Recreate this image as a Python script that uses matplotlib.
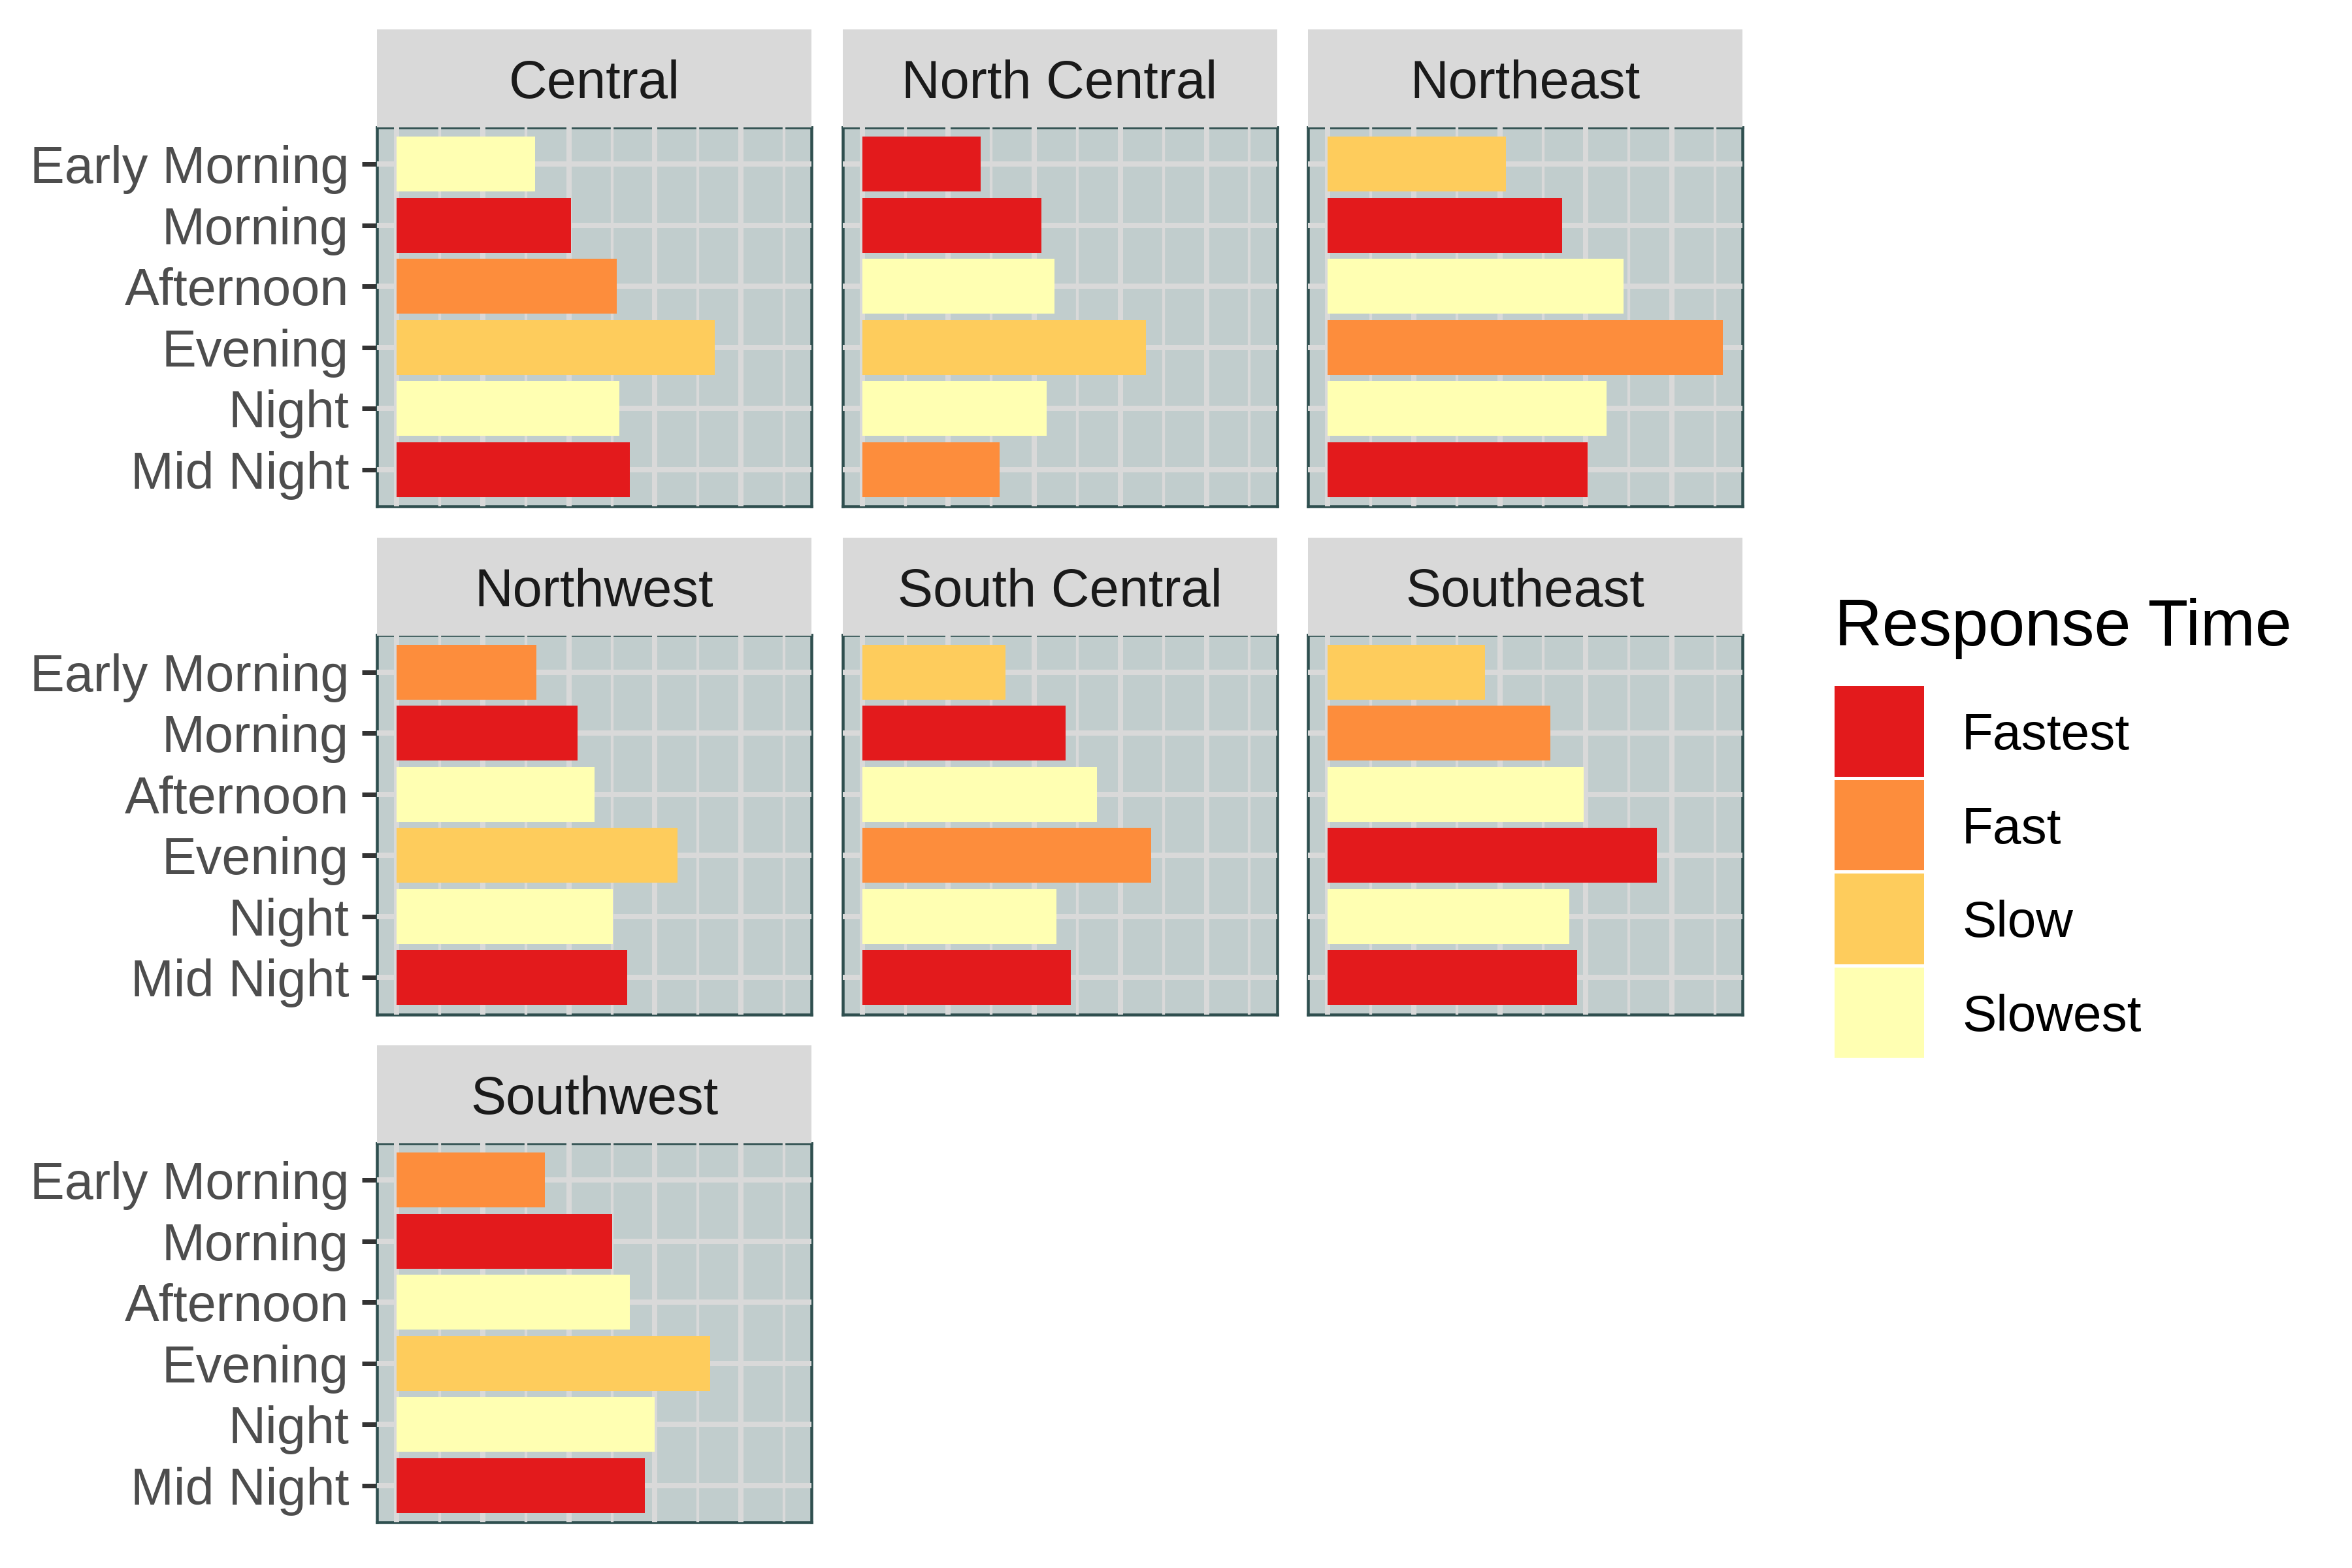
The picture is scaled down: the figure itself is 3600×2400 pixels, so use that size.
import matplotlib
matplotlib.use("Agg")
import matplotlib.pyplot as plt
from matplotlib.patches import Rectangle

plt.rcParams['font.family'] = ['Liberation Sans', 'DejaVu Sans']

regions = ['Central', 'North Central', 'Northeast', 'Northwest',
           'South Central', 'Southeast', 'Southwest']
periods = ['Early Morning', 'Morning', 'Afternoon', 'Evening', 'Night', 'Mid Night']
levels = ['Fastest', 'Fast', 'Slow', 'Slowest']
level_colors = ['#E31A1C', '#FD8D3C', '#FECC5C', '#FFFFB2']

central = [3.21, 4.05, 5.12, 7.39, 5.18, 5.41]
north_central = [2.76, 4.17, 4.47, 6.59, 4.28, 3.20]
northeast = [4.14, 5.45, 6.88, 9.18, 6.48, 6.04]
northwest = [3.25, 4.20, 4.60, 6.52, 5.03, 5.36]
south_central = [3.33, 4.73, 5.45, 6.72, 4.52, 4.85]
southeast = [3.65, 5.17, 5.95, 7.65, 5.62, 5.79]
southwest = [3.45, 5.01, 5.42, 7.29, 6.00, 5.77]

central_cat = ['Slowest', 'Fastest', 'Fast', 'Slow', 'Slowest', 'Fastest']
north_central_cat = ['Fastest', 'Fastest', 'Slowest', 'Slow', 'Slowest', 'Fast']
northeast_cat = ['Slow', 'Fastest', 'Slowest', 'Fast', 'Slowest', 'Fastest']
northwest_cat = ['Fast', 'Fastest', 'Slowest', 'Slow', 'Slowest', 'Fastest']
south_central_cat = ['Slow', 'Fastest', 'Slowest', 'Fast', 'Slowest', 'Fastest']
southeast_cat = ['Slow', 'Fast', 'Slowest', 'Fastest', 'Slowest', 'Fastest']
southwest_cat = ['Fast', 'Fastest', 'Slowest', 'Slow', 'Slowest', 'Fastest']

values = [central, north_central, northeast, northwest, south_central, southeast, southwest]
cats = [central_cat, north_central_cat, northeast_cat, northwest_cat,
        south_central_cat, southeast_cat, southwest_cat]
color_of = dict(zip(levels, level_colors))

W, H = 3600, 2400
DPI = 300
fig = plt.figure(figsize=(W / DPI, H / DPI), dpi=DPI)

def px(v):
    return v * 72.0 / DPI  # pixels -> points

PANEL_BG = '#C1CDCD'
BORDER = '#2F4F4F'
GRID = '#D9D9D9'
STRIP_BG = '#D9D9D9'

col_left = [577, 1289.5, 2002]
row_top = [195, 972.5, 1750]
pw, ph = 665, 580
strip_h = 150

vmax = max(max(v) for v in values)
xlo, xhi = -0.05 * vmax, vmax * 1.05
n = len(periods)
ypos = [n - i for i in range(n)]

for k, reg in enumerate(regions):
    r, c = divmod(k, 3)
    l = col_left[c]
    t = row_top[r]
    ax = fig.add_axes([l / W, 1 - (t + ph) / H, pw / W, ph / H])
    ax.set_facecolor(PANEL_BG)
    ax.set_xlim(xlo, xhi)
    ax.set_ylim(0.4, n + 0.6)
    for xv in range(0, int(xhi) + 1):
        lw = px(8) if xv % 2 == 0 else px(4.3)
        ax.axvline(xv, color=GRID, lw=lw, zorder=2.6, solid_capstyle='butt')
    for yv in ypos:
        ax.axhline(yv, color=GRID, lw=px(8), zorder=2.6, solid_capstyle='butt')
    ax.barh(ypos, values[k], height=0.9, left=0,
            color=[color_of[cc] for cc in cats[k]], zorder=3, linewidth=0)
    for s in ax.spines.values():
        s.set_color(BORDER)
        s.set_linewidth(px(4.5))
    ax.set_xticks([])
    if c == 0:
        ax.set_yticks(ypos)
        ax.set_yticklabels(periods, fontsize=19, color='#4D4D4D')
        ax.tick_params(axis='y', length=px(23), width=px(7), color='#333333', pad=px(20))
    else:
        ax.set_yticks([])
    # strip
    sax = fig.add_axes([l / W, 1 - t / H, pw / W, strip_h / H])
    sax.set_facecolor(STRIP_BG)
    for s in sax.spines.values():
        s.set_visible(False)
    sax.set_xticks([]); sax.set_yticks([])
    sax.text(0.5, 0.30, reg, ha='center', va='baseline', fontsize=19.5,
             color='#1A1A1A', transform=sax.transAxes)

# legend
lax = fig.add_axes([0, 0, 1, 1], facecolor='none')
lax.set_xlim(0, W); lax.set_ylim(H, 0)
lax.axis('off')
lax.text(2808, 988, 'Response Time', fontsize=24.2, color='black', ha='left', va='baseline')
key_top0 = 1047
key_step = 143.5
for i, (lev, colr) in enumerate(zip(levels, level_colors)):
    y0 = key_top0 + i * key_step
    lax.add_patch(Rectangle((2805, y0), 142, key_step, facecolor=colr,
                            edgecolor='white', linewidth=px(5)))
    lax.text(3003, y0 + key_step / 2, lev, fontsize=18.8, color='black',
             ha='left', va='center_baseline')

fig.savefig('out.png', dpi=DPI, facecolor='white')
